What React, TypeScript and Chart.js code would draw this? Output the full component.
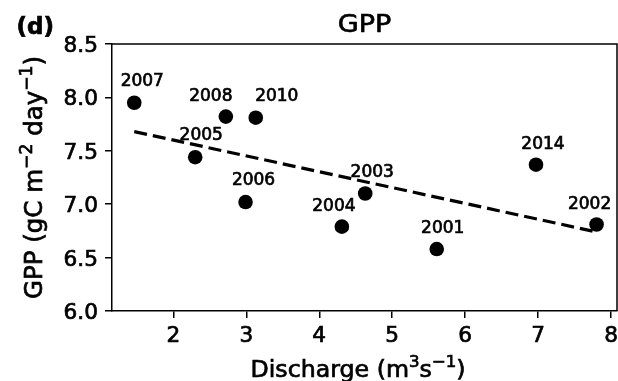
import React, { useEffect, useRef } from "react";
import { Chart, registerables } from "chart.js";

Chart.register(...registerables);

// ---- data ----
const years = ["2001", "2002", "2003", "2004", "2005", "2006", "2007", "2008", "2010", "2014"];
const discharge = [5.61, 7.8, 4.63, 4.31, 2.3, 2.99, 1.465, 2.72, 3.13, 6.97];
const gpp = [6.58, 6.81, 7.1, 6.79, 7.44, 7.02, 7.95, 7.82, 7.81, 7.37];
const trendX = [1.465, 7.8];
const trendY = [7.68, 6.74];
const xTickValues = [2, 3, 4, 5, 6, 7, 8];
const yTickValues = [6.0, 6.5, 7.0, 7.5, 8.0, 8.5];
const titleText = "GPP";
const panelText = "(d)";

// label placement (pixel offsets from each point), same order as years
const labelOffsets: [number, number][] = [
  [6, -16], [-7, -15], [7, -17], [-8, -16], [6, -17],
  [8, -17], [8, -17], [-15, -16], [21, -17], [7, -16],
];

type Seg = { t: string; sup?: boolean };
const yLabelSegs: Seg[] = [
  { t: "GPP (gC m" }, { t: "\u22122", sup: true }, { t: " day" }, { t: "\u22121", sup: true }, { t: ")" },
];
const xLabelSegs: Seg[] = [
  { t: "Discharge (m" }, { t: "3", sup: true }, { t: "s" }, { t: "\u22121", sup: true }, { t: ")" },
];

const FONT = "'DejaVu Sans', sans-serif";
const HALO = 0.7;

function fillHeavy(ctx: CanvasRenderingContext2D, text: string, x: number, y: number) {
  ctx.fillText(text, x, y);
  ctx.lineWidth = HALO;
  ctx.strokeText(text, x, y);
}

function drawRich(ctx: CanvasRenderingContext2D, segs: Seg[], x: number, y: number, size: number, sx: number) {
  const supSize = size * 0.7;
  let total = 0;
  const widths = segs.map((s) => {
    ctx.font = `${s.sup ? supSize : size}px ${FONT}`;
    const w = ctx.measureText(s.t).width;
    total += w;
    return w;
  });
  ctx.save();
  ctx.translate(x, y);
  ctx.scale(sx, 1);
  let cx = -total / 2;
  ctx.textAlign = "left";
  ctx.textBaseline = "alphabetic";
  segs.forEach((s, i) => {
    ctx.font = `${s.sup ? supSize : size}px ${FONT}`;
    fillHeavy(ctx, s.t, cx, s.sup ? -size * 0.42 : 0);
    cx += widths[i];
  });
  ctx.restore();
}

function drawStretched(ctx: CanvasRenderingContext2D, text: string, x: number, y: number, font: string, align: CanvasTextAlign, sx: number) {
  ctx.save();
  ctx.translate(x, y);
  ctx.scale(sx, 1);
  ctx.font = font;
  ctx.textAlign = align;
  ctx.textBaseline = "alphabetic";
  fillHeavy(ctx, text, 0, 0);
  ctx.restore();
}

const overlay = {
  id: "overlay",
  afterDraw(chart: any) {
    const ctx: CanvasRenderingContext2D = chart.ctx;
    const { left, right, top, bottom } = chart.chartArea;
    const xs = chart.scales.x;
    const ys = chart.scales.y;
    ctx.save();
    ctx.fillStyle = "#000";
    ctx.strokeStyle = "#000";
    // box
    ctx.lineWidth = 1.5;
    ctx.beginPath();
    ctx.moveTo(left, top);
    ctx.lineTo(right, top);
    ctx.lineTo(right, bottom);
    ctx.stroke();
    // tick labels
    yTickValues.forEach((v) => {
      drawStretched(ctx, v.toFixed(1), 98, ys.getPixelForValue(v) + 8, `21px ${FONT}`, "right", 1.03);
    });
    xTickValues.forEach((v) => {
      drawStretched(ctx, String(v), xs.getPixelForValue(v), 341.5, `21px ${FONT}`, "center", 1.03);
    });
    // title + panel letter
    drawStretched(ctx, titleText, (left + right) / 2, 31.7, `25px ${FONT}`, "center", 1.08);
    drawStretched(ctx, panelText, 16.5, 33.5, `bold 23px ${FONT}`, "left", 1.0);
    // axis titles
    drawRich(ctx, xLabelSegs, 358, 376.7, 23, 1.03);
    ctx.save();
    ctx.translate(42, (top + bottom) / 2);
    ctx.rotate(-Math.PI / 2);
    drawRich(ctx, yLabelSegs, 0, 0, 24.5, 1.0);
    ctx.restore();
    // point labels
    const meta = chart.getDatasetMeta(1);
    years.forEach((yr, i) => {
      const el = meta.data[i];
      const [dx, dy] = labelOffsets[i];
      drawStretched(ctx, yr, el.x + dx, el.y + dy, `17px ${FONT}`, "center", 1.0);
    });
    ctx.restore();
  },
};

export default function App() {
  const ref = useRef<HTMLCanvasElement | null>(null);
  useEffect(() => {
    if (!ref.current) return;
    const points = discharge.map((x, i) => ({ x, y: gpp[i] }));
    const trend = trendX.map((x, i) => ({ x, y: trendY[i] }));
    const chart = new Chart(ref.current, {
      type: "scatter",
      data: {
        datasets: [
          {
            type: "line",
            data: trend,
            borderColor: "#000",
            borderWidth: 3.2,
            borderDash: [13, 6],
            pointRadius: 0,
            fill: false,
          } as any,
          {
            data: points,
            pointRadius: 7.3,
            pointHoverRadius: 7.3,
            backgroundColor: "#000",
            borderColor: "#000",
            borderWidth: 0,
          },
        ],
      },
      options: {
        responsive: false,
        animation: false,
        events: [],
        layout: { autoPadding: false, padding: { top: 44, right: 1, left: 0, bottom: 0 } },
        plugins: { legend: { display: false }, tooltip: { enabled: false }, title: { display: false } },
        scales: {
          x: {
            type: "linear",
            min: 1.16,
            max: 8.08,
            afterBuildTicks: (s: any) => {
              s.ticks = xTickValues.map((v) => ({ value: v }));
            },
            afterFit: (s: any) => {
              s.height = 70;
            },
            ticks: { display: false },
            grid: { drawOnChartArea: false, drawTicks: true, tickLength: 7, color: "#000", lineWidth: 1.5 },
            border: { display: true, color: "#000", width: 1.5 },
          },
          y: {
            type: "linear",
            min: 6.0,
            max: 8.5,
            afterBuildTicks: (s: any) => {
              s.ticks = yTickValues.map((v) => ({ value: v }));
            },
            afterFit: (s: any) => {
              s.width = 112;
            },
            ticks: { display: false },
            grid: { drawOnChartArea: false, drawTicks: true, tickLength: 7, color: "#000", lineWidth: 1.5 },
            border: { display: true, color: "#000", width: 1.5 },
          },
        },
      },
      plugins: [overlay],
    });
    return () => chart.destroy();
  }, []);
  return (
    <div style={{ position: "fixed", left: 0, top: 0, width: 618, height: 381, background: "#fff" }}>
      <canvas ref={ref} width={618} height={381} style={{ display: "block", width: 618, height: 381 }} />
    </div>
  );
}
